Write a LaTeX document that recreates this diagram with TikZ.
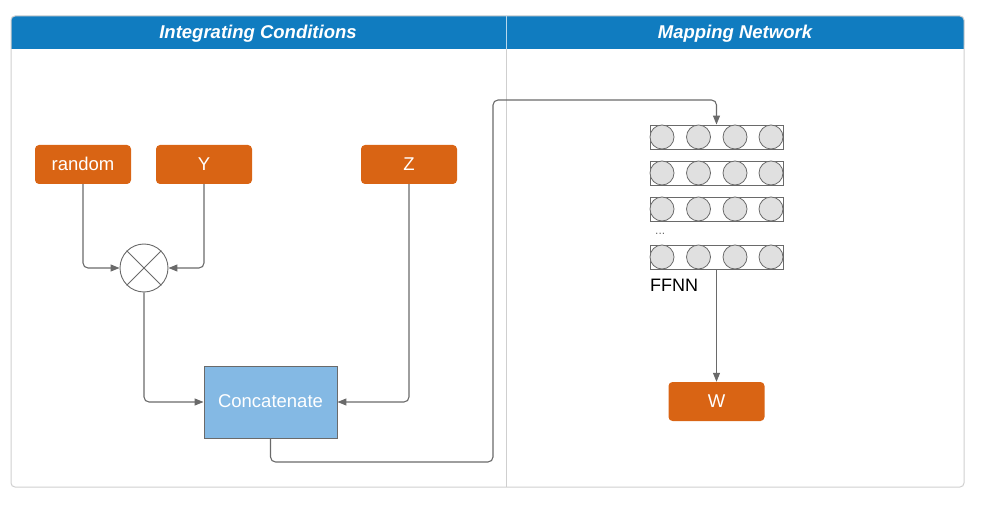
\documentclass[tikz,border=0pt]{standalone}
\usepackage{fontspec}
\setmainfont{Liberation Sans}
\usetikzlibrary{arrows.meta}
\definecolor{hdrblue}{HTML}{107CC0}
\definecolor{orng}{HTML}{D96414}
\definecolor{concblue}{HTML}{84B9E4}
\definecolor{linegray}{HTML}{6A6A6A}
\definecolor{framegray}{HTML}{CFCFCF}
\definecolor{cellgray}{HTML}{E0E0E0}
\tikzset{
  obox/.style={fill=orng, rounded corners=4pt, minimum width=96pt, minimum height=39pt, inner sep=0pt, text=white, font=\fontsize{18.5}{20}\selectfont},
  conc/.style={fill=concblue, draw=linegray, line width=0.9pt, minimum width=133pt, minimum height=72pt, inner sep=0pt, text=white, font=\fontsize{18.5}{20}\selectfont},
  layer/.style={draw=linegray, line width=0.9pt, minimum width=133pt, minimum height=24pt, inner sep=0pt},
  cell/.style={circle, draw=linegray, fill=cellgray, line width=0.8pt, minimum size=24pt, inner sep=0pt},
  conn/.style={draw=linegray, line width=1.1pt, rounded corners=5pt, -{Triangle[length=9pt,width=7pt]}},
  title/.style={text=white, font=\fontsize{18.5}{20}\selectfont\bfseries\itshape}
}
\begin{document}
\begin{tikzpicture}[x=1pt,y=-1pt]
\useasboundingbox (0,0) rectangle (982,505);
% frame
\fill[hdrblue, rounded corners=4pt] (11,16) rectangle (964,49);
\fill[hdrblue] (11,30) rectangle (964,49);
\draw[framegray, line width=1pt, rounded corners=4pt] (11,16) rectangle (964,487);
\draw[framegray, line width=1pt] (506,49) -- (506,487);
\draw[white!70!hdrblue, line width=1pt] (506,16) -- (506,49);
\node[title] (t1) at (258,33.5) {Integrating Conditions};
\node[title] (t2) at (735,33.5) {Mapping Network};
% nodes
\node[obox] (rnd) at (83,164.5) {\raisebox{1.5pt}{random}};
\node[obox] (y) at (204,164.5) {\raisebox{1.5pt}{Y}};
\node[obox] (z) at (409,164.5) {\raisebox{1.5pt}{Z}};
\node[circle, draw=linegray, line width=0.9pt, fill=white, minimum size=48pt, inner sep=0pt] (mul) at (144,268) {};
\draw[linegray, line width=0.9pt] (mul.north west) -- (mul.south east) (mul.north east) -- (mul.south west);
\node[conc] (cat) at (270.5,402) {\raisebox{1.5pt}{Concatenate}};
\node[obox] (w) at (716.5,401.5) {\raisebox{1.5pt}{W}};
% FFNN layers
\foreach \n/\yy in {l1/137, l2/173, l3/209, l4/257}{
  \node[layer] (\n) at (716.5,\yy) {};
  \foreach \xx [count=\i] in {662,698.5,735,771}{
    \node[cell] (\n c\i) at (\xx,\yy) {};
  }
}
\node[text=linegray, font=\fontsize{12}{12}\selectfont, anchor=west, inner sep=0pt] (dots) at (655,234) {...};
\node[font=\fontsize{18}{20}\selectfont, anchor=west, inner sep=0pt] (ffnn) at (650,285) {FFNN};
% connectors
\draw[conn] (rnd.south) |- (mul.west);
\draw[conn] (y.south) |- (mul.east);
\draw[conn] (mul.south) |- (cat.west);
\draw[conn] (z.south) |- (cat.east);
\coordinate (c1) at (493,462);
\coordinate (c2) at (493,100);
\draw[conn] (cat.south) |- (c1) -- (c2) -| (l1.north);
\draw[conn] (l4.south) -- (w.north);
\end{tikzpicture}
\end{document}
